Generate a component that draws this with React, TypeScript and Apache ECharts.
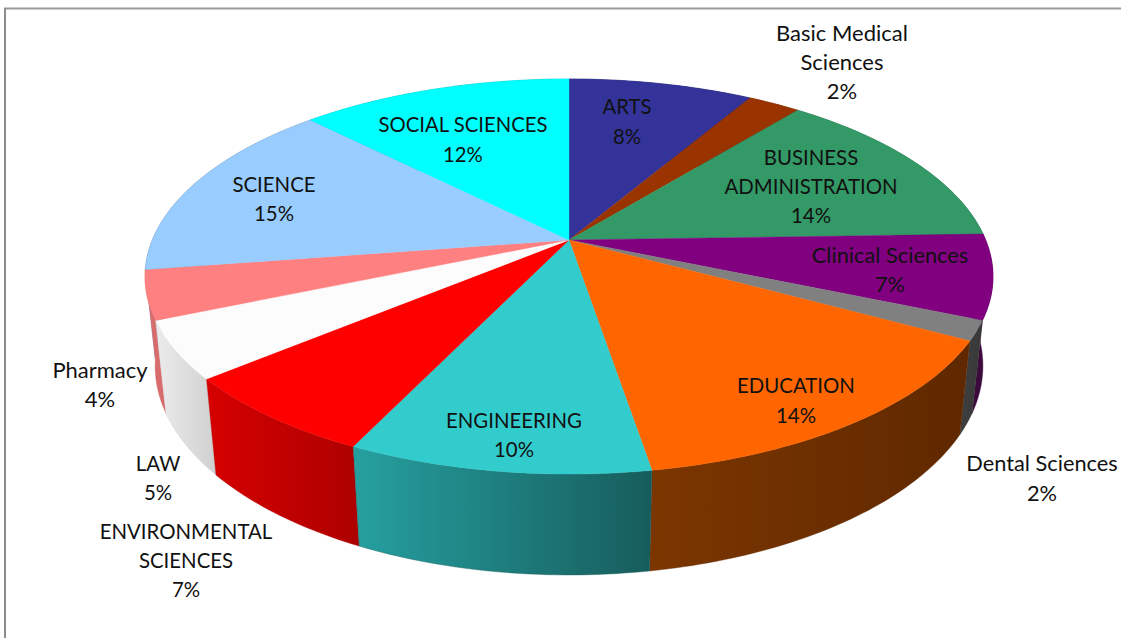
import React, { useEffect, useRef } from "react";
import * as echarts from "echarts";

// ---- data ----
const categories = [
  "ARTS", "Basic Medical Sciences", "BUSINESS ADMINISTRATION", "Clinical Sciences", "Dental Sciences", "EDUCATION",
  "ENGINEERING", "ENVIRONMENTAL SCIENCES", "LAW", "Pharmacy", "SCIENCE", "SOCIAL SCIENCES",
];
const shares = [8.4, 2.4, 13.7, 6.9, 1.6, 14.4, 9.7, 6.8, 4.7, 4.0, 15.0, 12.4];
const labelNames = [
  "ARTS", "Basic Medical\nSciences", "BUSINESS\nADMINISTRATION", "Clinical Sciences", "Dental Sciences", "EDUCATION",
  "ENGINEERING", "ENVIRONMENTAL\nSCIENCES", "LAW", "Pharmacy", "SCIENCE", "SOCIAL SCIENCES",
];

// ---- styles / layout ----
const topColors = [
  "#333399", "#993300", "#339966", "#800080", "#808080", "#ff6600",
  "#33cccc", "#ff0000", "#fcfcfc", "#ff8080", "#99ccff", "#00ffff",
];
const wallColors: [string, string][] = [
  ["#1f1f5c", "#1f1f5c"], ["#5c1f00", "#5c1f00"], ["#1f5c3d", "#1f5c3d"], ["#3d0a3d", "#3d0a3d"], ["#3f3f3f", "#383838"],
  ["#7c3600", "#5f2800"], ["#26a0a0", "#175c5c"], ["#d60000", "#ad0000"], ["#ececec", "#d0d0d0"], ["#d86c6c", "#d86c6c"],
  ["#5c7a99", "#5c7a99"], ["#009999", "#009999"],
];
const labelCenters: [number, number][] = [
  [627, 121], [842, 61.5], [811, 186], [890, 269], [1042, 477.5], [796, 400],
  [514, 434.5], [186, 560], [158, 477.5], [100, 384], [274, 198.5], [463, 139],
];
const labelSizes = [20.3, 22, 20.4, 21.8, 21.8, 20.4, 20.4, 20.4, 20.4, 22, 20.4, 20.3];
const labelFamily = 'Lato, "Open Sans", sans-serif';
const labelLineHeight = 29.3;

// perspective model of the disc
const CX = 569, CY = 240, A = 416.7, B = 190.8, P = 0.185, Q = 0.0236, C = 90.1;

function project(frac: number, r: number, depth: number): [number, number] {
  const a = frac * 2 * Math.PI;
  const u = r * Math.sin(a), v = r * Math.cos(a);
  const w = 1 + P * v + Q * depth;
  return [CX + (A * u) / w, CY + (-B * v + C * depth) / w];
}

function arcPoints(f0: number, f1: number, depth: number): [number, number][] {
  const n = Math.max(4, Math.ceil((f1 - f0) * 360));
  const pts: [number, number][] = [];
  for (let i = 0; i <= n; i++) pts.push(project(f0 + ((f1 - f0) * i) / n, 1, depth));
  return pts;
}

const total = shares.reduce((s, v) => s + v, 0);
let acc = 0;
const sliceRows = shares.map((v, i) => {
  const row = [acc / total, (acc + v) / total, i];
  acc += v;
  return row;
});
// walls are painted from the back of the disc to the front
const wallRows = [...sliceRows].sort(
  (a, b) => Math.abs((b[0] + b[1]) / 2 - 0.5) - Math.abs((a[0] + a[1]) / 2 - 0.5)
);

export default function App() {
  const ref = useRef<HTMLDivElement>(null);
  useEffect(() => {
    document.body.style.margin = "0";
    const chart = echarts.init(ref.current!, null, { renderer: "svg" });
    chart.setOption({
      animation: false,
      backgroundColor: "#ffffff",
      graphic: [
        { type: "rect", silent: true, shape: { x: 4, y: 7.5, width: 1117, height: 2 }, style: { fill: "#9a9a9a" } },
        { type: "rect", silent: true, shape: { x: 4, y: 8, width: 2, height: 630 }, style: { fill: "#8c8c8c" } },
      ],
      series: [
        {
          type: "custom",
          name: "walls",
          coordinateSystem: "none",
          silent: true,
          z: 1,
          data: wallRows,
          renderItem: (_p: any, api: any) => {
            const f0 = api.value(0), f1 = api.value(1), idx = api.value(2);
            const points = [...arcPoints(f0, f1, 0), ...arcPoints(f0, f1, 1).reverse()];
            const [c0, c1] = wallColors[idx];
            const fill = new echarts.graphic.LinearGradient(0, 0, 1, 0, [
              { offset: 0, color: c0 },
              { offset: 1, color: c1 },
            ]);
            return { type: "polygon", shape: { points }, style: { fill, stroke: c1, lineWidth: 0.4 } };
          },
        },
        {
          type: "custom",
          name: categories.join(", "),
          coordinateSystem: "none",
          silent: true,
          z: 2,
          data: sliceRows,
          renderItem: (_p: any, api: any) => {
            const f0 = api.value(0), f1 = api.value(1), idx = api.value(2);
            const points = [[CX, CY], ...arcPoints(f0, f1, 0)];
            return {
              type: "polygon",
              shape: { points },
              style: { fill: topColors[idx], stroke: topColors[idx], lineWidth: 0.4 },
            };
          },
        },
        {
          type: "custom",
          name: "labels",
          coordinateSystem: "none",
          silent: true,
          z: 3,
          data: sliceRows,
          renderItem: (_p: any, api: any) => {
            const idx = api.value(2);
            const [x, y] = labelCenters[idx];
            return {
              type: "text",
              style: {
                x,
                y,
                text: `${labelNames[idx]}\n${Math.round(shares[idx])}%`,
                align: "center",
                verticalAlign: "middle",
                font: `${labelSizes[idx]}px ${labelFamily}`,
                lineHeight: labelLineHeight,
                fill: "#111111",
              },
            };
          },
        },
      ],
    });
    return () => chart.dispose();
  }, []);
  return <div ref={ref} style={{ width: 1121, height: 638 }} />;
}
